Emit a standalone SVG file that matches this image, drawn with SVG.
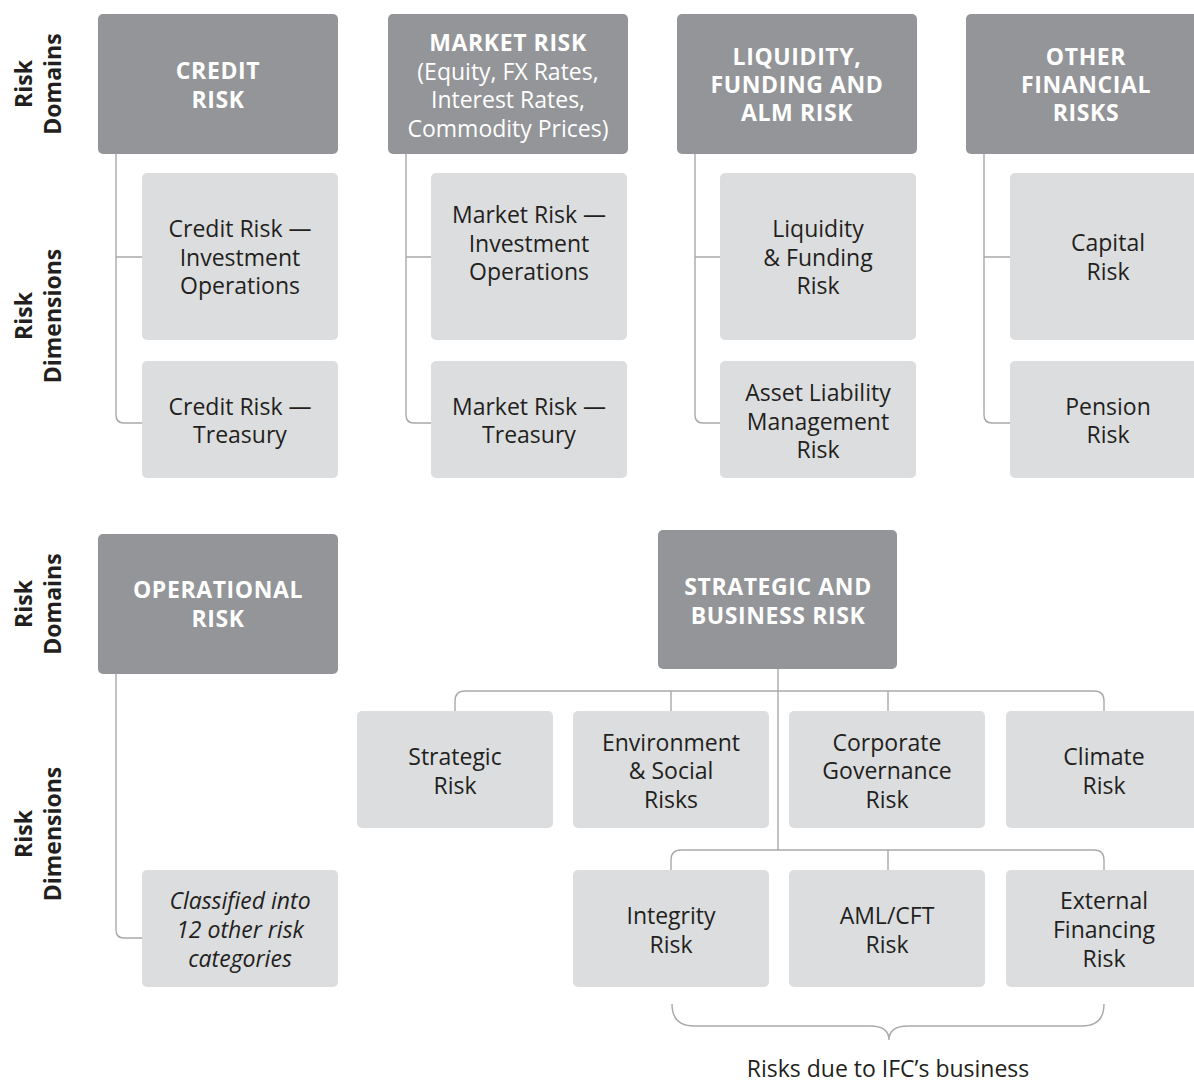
<svg xmlns="http://www.w3.org/2000/svg" width="1194" height="1088" viewBox="0 0 1194 1088">
<style>
.dom{fill:#939598}
.dim{fill:#dcdddf}
.ht{font-family:"Open Sans","Liberation Sans",sans-serif;font-weight:700;font-size:23px;letter-spacing:0.6px;fill:#ffffff;text-anchor:middle}
.hs{font-family:"Open Sans","Liberation Sans",sans-serif;font-weight:400;font-size:23px;fill:#ffffff;text-anchor:middle}
.dt{font-family:"Open Sans","Liberation Sans",sans-serif;font-weight:400;font-size:23px;fill:#231f20;text-anchor:middle}
.it{font-style:italic}
.lbl{font-family:"Open Sans","Liberation Sans",sans-serif;font-weight:700;font-size:23px;fill:#231f20;text-anchor:middle}
.con{fill:none;stroke:#a7a9ac;stroke-width:1.4}
</style>
<rect width="1194" height="1088" fill="#ffffff"/>

<g id="labels">
<text class="lbl" transform="translate(32,84) rotate(-90)">Risk</text>
<text class="lbl" transform="translate(61,84) rotate(-90)">Domains</text>
<text class="lbl" transform="translate(32,316) rotate(-90)">Risk</text>
<text class="lbl" transform="translate(61,316) rotate(-90)">Dimensions</text>
<text class="lbl" transform="translate(32,604) rotate(-90)">Risk</text>
<text class="lbl" transform="translate(61,604) rotate(-90)">Domains</text>
<text class="lbl" transform="translate(32,834) rotate(-90)">Risk</text>
<text class="lbl" transform="translate(61,834) rotate(-90)">Dimensions</text>
</g>

<g id="connectors">
<path class="con" d="M116,154 V415 Q116,423 124,423 H142 M116,257 H142"/>
<path class="con" d="M406,154 V415 Q406,423 414,423 H431 M406,257 H431"/>
<path class="con" d="M695,154 V415 Q695,423 703,423 H720 M695,257 H720"/>
<path class="con" d="M984,154 V415 Q984,423 992,423 H1010 M984,257 H1010"/>
<path class="con" d="M116,674 V930 Q116,938 124,938 H142"/>
<path class="con" d="M778,669 V850"/>
<path class="con" d="M455,711 V701 Q455,691 465,691 H1094 Q1104,691 1104,701 V711 M671,691 V711 M888,691 V711"/>
<path class="con" d="M671,870 V860 Q671,850 681,850 H1094 Q1104,850 1104,860 V870 M888,850 V870"/>
<path class="con" d="M672,1004 Q672,1026 694,1026 H870 Q889,1026 889,1040 Q889,1026 908,1026 H1082 Q1104,1026 1104,1004"/>
</g>

<g id="credit-risk">
<rect class="dom" x="98" y="14" width="240" height="140" rx="5"/>
<text class="ht" x="218" y="79">CREDIT</text>
<text class="ht" x="218" y="108">RISK</text>
</g>
<g id="market-risk">
<rect class="dom" x="388" y="14" width="240" height="140" rx="5"/>
<text class="ht" x="508" y="51">MARKET RISK</text>
<text class="hs" x="508" y="80">(Equity, FX Rates,</text>
<text class="hs" x="508" y="108">Interest Rates,</text>
<text class="hs" x="508" y="137">Commodity Prices)</text>
</g>
<g id="liquidity-risk">
<rect class="dom" x="677" y="14" width="240" height="140" rx="5"/>
<text class="ht" x="797" y="65">LIQUIDITY,</text>
<text class="ht" x="797" y="93">FUNDING AND</text>
<text class="ht" x="797" y="121">ALM RISK</text>
</g>
<g id="other-financial-risks">
<rect class="dom" x="966" y="14" width="240" height="140" rx="5"/>
<text class="ht" x="1086" y="65">OTHER</text>
<text class="ht" x="1086" y="93">FINANCIAL</text>
<text class="ht" x="1086" y="121">RISKS</text>
</g>

<g id="credit-inv">
<rect class="dim" x="142" y="173" width="196" height="167" rx="5"/>
<text class="dt" x="240" y="237">Credit Risk —</text>
<text class="dt" x="240" y="266">Investment</text>
<text class="dt" x="240" y="294">Operations</text>
</g>
<g id="credit-treasury">
<rect class="dim" x="142" y="361" width="196" height="117" rx="5"/>
<text class="dt" x="240" y="415">Credit Risk —</text>
<text class="dt" x="240" y="443">Treasury</text>
</g>
<g id="market-inv">
<rect class="dim" x="431" y="173" width="196" height="167" rx="5"/>
<text class="dt" x="529" y="223">Market Risk —</text>
<text class="dt" x="529" y="252">Investment</text>
<text class="dt" x="529" y="280">Operations</text>
</g>
<g id="market-treasury">
<rect class="dim" x="431" y="361" width="196" height="117" rx="5"/>
<text class="dt" x="529" y="415">Market Risk —</text>
<text class="dt" x="529" y="443">Treasury</text>
</g>
<g id="liquidity-funding">
<rect class="dim" x="720" y="173" width="196" height="167" rx="5"/>
<text class="dt" x="818" y="237">Liquidity</text>
<text class="dt" x="818" y="266">&amp; Funding</text>
<text class="dt" x="818" y="294">Risk</text>
</g>
<g id="alm-risk">
<rect class="dim" x="720" y="361" width="196" height="117" rx="5"/>
<text class="dt" x="818" y="401">Asset Liability</text>
<text class="dt" x="818" y="430">Management</text>
<text class="dt" x="818" y="458">Risk</text>
</g>
<g id="capital-risk">
<rect class="dim" x="1010" y="173" width="196" height="167" rx="5"/>
<text class="dt" x="1108" y="251">Capital</text>
<text class="dt" x="1108" y="280">Risk</text>
</g>
<g id="pension-risk">
<rect class="dim" x="1010" y="361" width="196" height="117" rx="5"/>
<text class="dt" x="1108" y="415">Pension</text>
<text class="dt" x="1108" y="443">Risk</text>
</g>

<g id="operational-risk">
<rect class="dom" x="98" y="534" width="240" height="140" rx="5"/>
<text class="ht" x="218" y="598">OPERATIONAL</text>
<text class="ht" x="218" y="627">RISK</text>
</g>
<g id="op-categories">
<rect class="dim" x="142" y="870" width="196" height="117" rx="5"/>
<text class="dt it" x="240" y="909">Classified into</text>
<text class="dt it" x="240" y="938">12 other risk</text>
<text class="dt it" x="240" y="967">categories</text>
</g>

<g id="strategic-business-risk">
<rect class="dom" x="658" y="530" width="239" height="139" rx="5"/>
<text class="ht" x="778" y="595">STRATEGIC AND</text>
<text class="ht" x="778" y="624">BUSINESS RISK</text>
</g>
<g id="strategic-risk">
<rect class="dim" x="357" y="711" width="196" height="117" rx="5"/>
<text class="dt" x="455" y="765">Strategic</text>
<text class="dt" x="455" y="794">Risk</text>
</g>
<g id="env-social">
<rect class="dim" x="573" y="711" width="196" height="117" rx="5"/>
<text class="dt" x="671" y="751">Environment</text>
<text class="dt" x="671" y="779">&amp; Social</text>
<text class="dt" x="671" y="808">Risks</text>
</g>
<g id="corp-gov">
<rect class="dim" x="789" y="711" width="196" height="117" rx="5"/>
<text class="dt" x="887" y="751">Corporate</text>
<text class="dt" x="887" y="779">Governance</text>
<text class="dt" x="887" y="808">Risk</text>
</g>
<g id="climate-risk">
<rect class="dim" x="1006" y="711" width="196" height="117" rx="5"/>
<text class="dt" x="1104" y="765">Climate</text>
<text class="dt" x="1104" y="794">Risk</text>
</g>
<g id="integrity-risk">
<rect class="dim" x="573" y="870" width="196" height="117" rx="5"/>
<text class="dt" x="671" y="924">Integrity</text>
<text class="dt" x="671" y="953">Risk</text>
</g>
<g id="aml-cft">
<rect class="dim" x="789" y="870" width="196" height="117" rx="5"/>
<text class="dt" x="887" y="924">AML/CFT</text>
<text class="dt" x="887" y="953">Risk</text>
</g>
<g id="external-financing">
<rect class="dim" x="1006" y="870" width="196" height="117" rx="5"/>
<text class="dt" x="1104" y="909">External</text>
<text class="dt" x="1104" y="938">Financing</text>
<text class="dt" x="1104" y="967">Risk</text>
</g>

<g id="brace-label">
<text class="dt" x="888" y="1077">Risks due to IFC’s business</text>
</g>
</svg>
